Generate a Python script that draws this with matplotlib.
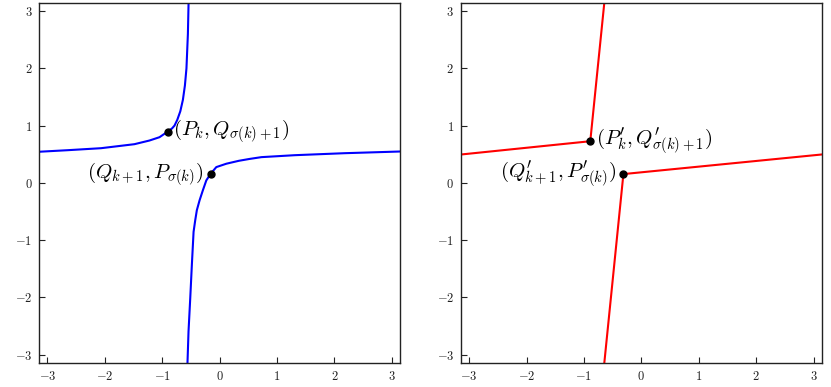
import matplotlib
matplotlib.use("Agg")
import matplotlib.pyplot as plt

plt.rcParams["font.family"] = "serif"
plt.rcParams["font.serif"] = ["cmr10"]
plt.rcParams["mathtext.fontset"] = "cm"
plt.rcParams["axes.formatter.use_mathtext"] = True

# left panel: smooth curve, two branches
upper_x = [-0.540, -0.553, -0.578, -0.605, -0.640, -0.685, -0.738, -0.786, -0.830,
           -0.903, -1.048, -1.223, -1.485, -2.067, -2.651, -3.2]
upper_y = [3.2, 2.60, 2.00, 1.70, 1.45, 1.25, 1.10, 1.00, 0.950,
           0.896, 0.797, 0.739, 0.675, 0.605, 0.570, 0.540]
lower_x = [-0.562, -0.542, -0.512, -0.484, -0.454, -0.425, -0.397, -0.349, -0.292,
           -0.232, -0.157, -0.058, 0.117, 0.335, 0.524, 0.729, 1.311, 2.184, 3.2]
lower_y = [-3.2, -2.595, -2.014, -1.435, -0.856, -0.652, -0.478, -0.304, -0.130,
           0.043, 0.157, 0.275, 0.334, 0.385, 0.418, 0.449, 0.483, 0.518, 0.549]
pts_left_x = [-0.903, -0.157]
pts_left_y = [0.896, 0.157]
labels_left = [r"$(P_k, Q_{\sigma(k)+1})$", r"$(Q_{k+1}, P_{\sigma(k)})$"]

# right panel: piecewise linear version
red_upper_x = [-3.2, -0.89, -0.64]
red_upper_y = [0.489, 0.727, 3.2]
red_lower_x = [-0.651, -0.313, 3.2]
red_lower_y = [-3.2, 0.153, 0.501]
pts_right_x = [-0.89, -0.313]
pts_right_y = [0.727, 0.153]
labels_right = [r"$(P_k^{\prime}, Q_{\sigma(k)+1}^{\prime})$",
                r"$(Q_{k+1}^{\prime}, P_{\sigma(k)}^{\prime})$"]

fig = plt.figure(figsize=(8.31, 3.87), dpi=100)
ax1 = fig.add_axes([0.0473, 0.0628, 0.434, 0.9295])
ax2 = fig.add_axes([0.5548, 0.0628, 0.434, 0.9295])

ax1.plot(upper_x, upper_y, color="blue", lw=1.5)
ax1.plot(lower_x, lower_y, color="blue", lw=1.5)
ax2.plot(red_upper_x, red_upper_y, color="red", lw=1.5)
ax2.plot(red_lower_x, red_lower_y, color="red", lw=1.5)

for ax, px, py, labs in [(ax1, pts_left_x, pts_left_y, labels_left),
                         (ax2, pts_right_x, pts_right_y, labels_right)]:
    ax.plot(px, py, "o", color="black", ms=5, zorder=5)
    ax.annotate(labs[0], (px[0], py[0]), xytext=(4, 0), textcoords="offset points",
                ha="left", va="center", fontsize=15)
    ax.annotate(labs[1], (px[1], py[1]), xytext=(-5, 0), textcoords="offset points",
                ha="right", va="center", fontsize=15)
    ax.set_xlim(-3.1416, 3.1416)
    ax.set_ylim(-3.1416, 3.1416)
    ax.set_xticks([-3, -2, -1, 0, 1, 2, 3])
    ax.set_yticks([-3, -2, -1, 0, 1, 2, 3])
    ax.tick_params(direction="in", length=4.5, width=0.8, labelsize=9,
                   colors="#222222", pad=5)
    for s in ax.spines.values():
        s.set_linewidth(1.0)
        s.set_color("#222222")

fig.savefig("out.png", dpi=100)
